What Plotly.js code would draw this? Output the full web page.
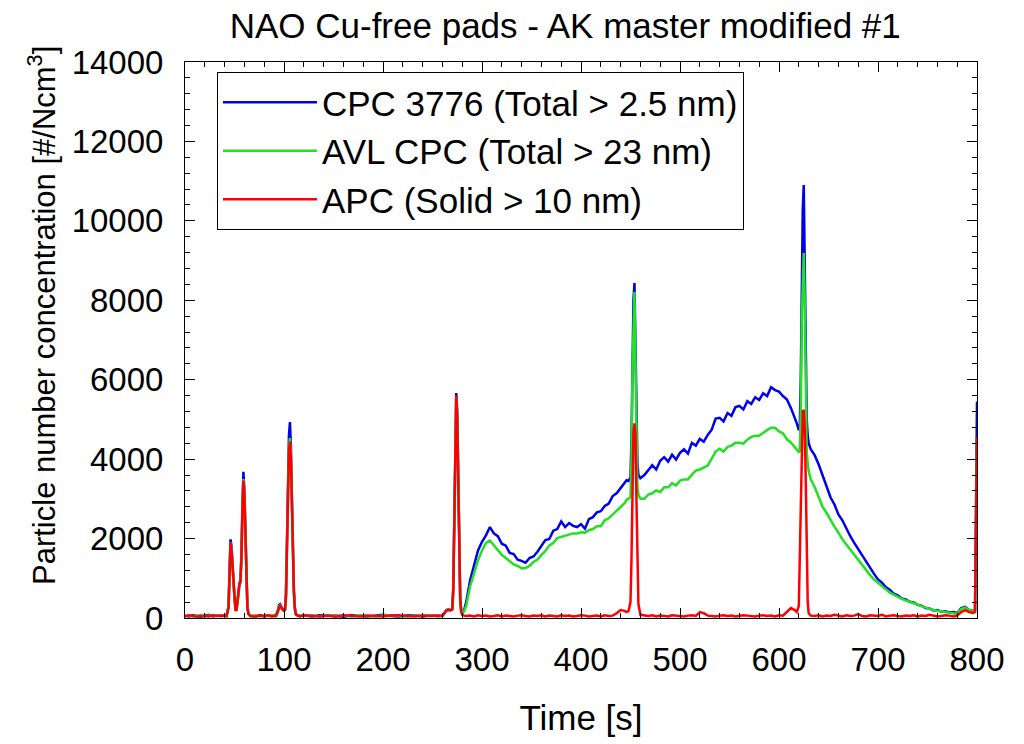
<!DOCTYPE html>
<html>
<head>
<meta charset="utf-8">
<script src="https://cdn.plot.ly/plotly-3.0.1.min.js"></script>
<style>html,body{margin:0;padding:0;background:#fff;}#chart{width:1024px;height:744px;}</style>
</head>
<body>
<div id="chart"></div>
<script>
// Time [s]
const time = [
  0,4,8,12,16,20,24,28,32,36,40,
  42,44,45,46,47,48,49,50,51,52,53,54,55,56,57,58,59,60,61,62,63,64,66,68,
  72,76,80,84,88,92,94,95,96,97,98,100,101,102,103,104,105,106,107,108,109,110,111,112,114,116,
  120,128,136,144,152,160,168,176,184,192,200,208,216,224,232,240,248,256,
  260,264,266,268,270,271,272,273,274,275,276,277,278,279,280,282,
  284,288,292,296,300,304,308,312,316,320,324,328,332,336,340,344,348,352,356,360,364,368,372,376,380,384,388,392,396,400,404,408,412,416,420,424,428,432,436,440,444,
  446,448,450,451,452,453,454,455,456,457,458,460,
  464,468,472,476,480,484,488,492,496,500,504,508,512,516,520,524,528,532,536,540,544,548,552,556,560,564,568,572,576,580,584,588,592,596,600,604,608,612,616,
  618,620,621,622,623,624,625,626,627,628,629,630,632,
  636,640,644,648,652,656,660,664,668,672,676,680,684,688,692,696,700,704,708,712,716,720,724,728,732,736,740,744,748,752,756,760,764,768,772,776,780,784,788,792,796,
  798,800
];
// CPC 3776 (Total > 2.5 nm)
const cpc3776 = [
  60,40,70,50,30,60,80,40,60,50,70,
  60,300,1200,1980,1800,1300,900,500,250,200,400,700,880,950,1600,2800,3680,3200,2000,900,300,120,60,50,
  50,70,40,60,50,80,200,330,350,300,250,200,220,600,1800,3500,4600,4935,4300,3000,1600,700,250,100,60,50,
  60,40,70,50,60,30,70,50,40,60,80,50,40,60,70,40,60,50,
  60,200,220,200,230,800,2500,4500,5665,5200,3500,1500,500,200,120,200,
  400,950,1350,1700,1920,2080,2290,2130,2060,1870,1820,1640,1610,1470,1440,1390,1510,1550,1670,1800,1960,1990,2200,2240,2430,2290,2390,2320,2290,2360,2250,2490,2540,2660,2690,2820,2880,3070,3140,3270,3400,
  3470,3450,3550,4500,6500,8000,8435,7000,4800,3900,3600,3520,
  3600,3720,3850,3740,3960,4050,3940,4110,3990,4160,4250,4140,4410,4340,4510,4440,4610,4740,5020,5040,4950,5160,5090,5310,5340,5250,5460,5390,5560,5490,5660,5590,5810,5740,5700,5590,5500,5290,5050,
  4900,4730,4800,6000,8500,10300,10900,9000,6500,5000,4600,4400,4250,
  4100,3870,3590,3310,3040,2860,2610,2460,2240,2060,1890,1730,1570,1410,1240,1110,970,890,770,710,610,570,490,470,410,390,330,310,250,240,190,200,160,170,140,150,120,250,280,200,180,
  200,5450
];
// AVL CPC (Total > 23 nm)
const avlCpc = [
  50,60,40,70,50,40,60,50,70,40,60,
  50,280,1150,1900,1750,1250,850,450,220,180,350,650,850,900,1500,2700,3500,3150,1950,850,280,110,50,60,
  60,40,60,50,70,60,180,300,320,280,230,190,210,550,1700,3300,4300,4530,4100,2900,1550,650,230,90,50,60,
  50,70,40,60,50,60,40,70,50,40,60,70,50,40,60,50,70,40,
  50,190,210,190,220,750,2400,4400,5550,5100,3400,1450,450,180,100,180,
  300,800,1150,1450,1700,1890,1950,1830,1700,1590,1510,1430,1350,1310,1250,1260,1310,1410,1470,1590,1690,1830,1890,2010,2040,2070,2090,2130,2130,2160,2150,2210,2240,2310,2310,2460,2510,2610,2690,2810,2890,
  2980,3000,3050,4000,6200,7800,8210,6500,4300,3300,3100,3000,
  3000,3110,3140,3210,3170,3290,3290,3390,3340,3460,3490,3490,3610,3710,3740,3790,3840,4010,4190,4260,4190,4310,4340,4410,4410,4390,4490,4560,4590,4590,4670,4730,4790,4790,4700,4650,4500,4420,4300,
  4250,4180,4200,5200,7500,8800,9190,8000,5500,4200,3900,3700,3500,
  3300,3050,2800,2650,2470,2300,2150,1980,1850,1720,1600,1450,1320,1200,1080,970,880,800,720,640,580,520,480,440,410,380,340,300,260,230,200,180,160,150,130,120,100,230,260,200,170,
  170,4500
];
// APC (Solid > 10 nm)
const apc = [
  40,70,50,30,60,50,40,70,50,60,40,
  40,260,1100,1900,1700,1250,800,450,200,200,380,650,860,900,1500,2700,3460,3100,1900,850,270,100,50,40,
  40,60,50,70,40,50,170,280,300,270,220,180,200,530,1650,3200,4200,4440,4000,2850,1500,650,220,90,60,40,
  70,50,40,60,30,70,50,40,60,50,40,60,70,50,40,60,50,60,
  50,180,200,190,210,700,2300,4300,5600,5000,3300,1400,450,150,80,60,
  50,60,40,70,50,60,40,50,70,40,60,50,40,60,70,50,40,60,50,70,40,60,50,40,70,50,60,40,50,70,60,40,50,60,40,70,50,60,120,200,180,
  150,180,400,1500,3500,4700,4900,4600,3000,1200,350,80,
  60,50,70,40,60,50,40,70,60,50,40,60,70,50,150,120,60,50,40,60,70,50,60,40,50,70,60,50,40,60,70,50,60,40,70,60,150,250,200,
  150,300,1500,3500,4800,5200,5240,4800,3500,1500,400,120,60,
  50,70,40,60,50,80,60,40,70,50,60,100,50,40,70,60,50,80,40,60,70,50,40,60,50,70,40,60,50,80,60,40,50,70,60,40,60,150,200,150,130,
  150,4550
];
const seriesNames = ['CPC 3776 (Total > 2.5 nm)', 'AVL CPC (Total > 23 nm)', 'APC (Solid > 10 nm)'];
const seriesColors = ['#0000ee', '#22e022', '#ff0000'];
const seriesValues = [cpc3776, avlCpc, apc];
const yTitle = 'Particle number concentration [#/Ncm<sup>3</sup>]';

const traces = seriesValues.map((v, i) => ({
  x: time, y: v, type: 'scatter', mode: 'lines', name: seriesNames[i],
  legendgroup: 'g' + i,
  line: {color: seriesColors[i], width: 2.5}
}));

const FONT = '"Liberation Sans", Arial, sans-serif';
const axisCommon = {
  showline: true, linecolor: 'black', linewidth: 1, mirror: 'allticks',
  ticks: 'inside', ticklen: 10, tickwidth: 1, tickcolor: 'black',
  showgrid: false, zeroline: false,
  tickfont: {size: 33, family: FONT, color: 'black'}
};
const layout = {
  width: 1024, height: 744,
  margin: {l: 185, r: 47, t: 62, b: 126},
  paper_bgcolor: 'white', plot_bgcolor: 'white',
  font: {family: FONT, color: 'black'},
  title: {text: 'NAO Cu-free pads - AK master modified #1', font: {size: 35, family: FONT, color: 'black'},
          x: 0.552, xref: 'container', xanchor: 'center', y: 0.965, yref: 'container', yanchor: 'middle'},
  xaxis: Object.assign({}, axisCommon, {
    range: [0, 800], tick0: 0, dtick: 100, ticklabelstandoff: 12,
    minor: {dtick: 20, ticks: 'inside', ticklen: 5, tickwidth: 1, tickcolor: 'black', showgrid: false},
    title: {text: 'Time [s]', font: {size: 35, family: FONT, color: 'black'}, standoff: 28}
  }),
  yaxis: Object.assign({}, axisCommon, {
    range: [0, 14000], tick0: 0, dtick: 2000, tickformat: 'd', ticklabelstandoff: 14,
    minor: {dtick: 400, ticks: 'inside', ticklen: 5, tickwidth: 1, tickcolor: 'black', showgrid: false}
  }),
  annotations: [{
    text: yTitle, textangle: -90, xref: 'paper', yref: 'paper',
    x: (42 - 185) / 792, y: (618 - 316) / 556, xanchor: 'center', yanchor: 'middle',
    showarrow: false, font: {size: 31, family: FONT, color: 'black'}
  }],
  showlegend: true,
  legend: {x: 0.0404, y: 0.982, xanchor: 'left', yanchor: 'top', bgcolor: 'white',
           bordercolor: 'black', borderwidth: 1, font: {size: 35, family: FONT, color: 'black'},
           itemwidth: 94, tracegroupgap: 0}
};
Plotly.newPlot('chart', traces, layout, {displayModeBar: false, staticPlot: true});
</script>
</body>
</html>
